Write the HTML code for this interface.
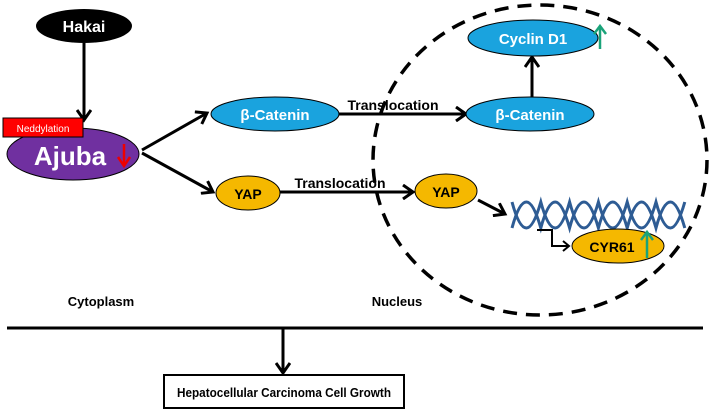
<!DOCTYPE html>
<html><head><meta charset="utf-8"><style>body{margin:0;background:#fff}svg{display:block}text{font-family:"Liberation Sans",sans-serif;font-weight:bold}</style></head>
<body>
<svg width="709" height="413" viewBox="0 0 709 413" xmlns="http://www.w3.org/2000/svg">
<defs>
<marker id="a" markerWidth="14" markerHeight="16" refX="11" refY="8" orient="auto" markerUnits="userSpaceOnUse"><path d="M1,1 L11,8 L1,15" fill="none" stroke="#000" stroke-width="3"/></marker>
</defs>
<ellipse cx="540" cy="160" rx="167" ry="155" fill="none" stroke="#000" stroke-width="3.5" stroke-dasharray="14,9"/>
<ellipse cx="84" cy="26" rx="48" ry="17" fill="#000"/>
<text x="84" y="32" fill="#fff" font-size="16" text-anchor="middle">Hakai</text>
<line x1="84" y1="43" x2="84" y2="120" stroke="#000" stroke-width="3" marker-end="url(#a)"/>
<ellipse cx="73" cy="154" rx="66" ry="26" fill="#7030a0" stroke="#000" stroke-width="1"/>
<rect x="3" y="118" width="80" height="19" fill="#f00" stroke="#000" stroke-width="1"/>
<text x="43" y="132" fill="#fff" font-size="10" text-anchor="middle" style="font-weight:normal">Neddylation</text>
<text x="70" y="165" fill="#fff" font-size="26" text-anchor="middle">Ajuba</text>
<line x1="124" y1="144" x2="124" y2="165" stroke="#e00" stroke-width="2.5"/>
<path d="M118,157 L124,166 L130,157" fill="none" stroke="#e00" stroke-width="2.5"/>
<line x1="142" y1="150" x2="207" y2="113" stroke="#000" stroke-width="3" marker-end="url(#a)"/>
<line x1="142" y1="153" x2="213" y2="192" stroke="#000" stroke-width="3" marker-end="url(#a)"/>
<ellipse cx="275" cy="114" rx="64" ry="17" fill="#1aa3de" stroke="#000" stroke-width="1"/>
<text x="275" y="120" fill="#fff" font-size="15" text-anchor="middle">β-Catenin</text>
<line x1="339" y1="114" x2="466" y2="114" stroke="#000" stroke-width="3" marker-end="url(#a)"/>
<text x="393" y="110" fill="#000" font-size="14" text-anchor="middle">Translocation</text>
<ellipse cx="530" cy="114" rx="64" ry="17" fill="#1aa3de" stroke="#000" stroke-width="1"/>
<text x="530" y="120" fill="#fff" font-size="15" text-anchor="middle">β-Catenin</text>
<line x1="532" y1="97" x2="532" y2="57" stroke="#000" stroke-width="3" marker-end="url(#a)"/>
<ellipse cx="533" cy="38" rx="65" ry="18" fill="#1aa3de" stroke="#000" stroke-width="1"/>
<text x="533" y="44" fill="#fff" font-size="15" text-anchor="middle">Cyclin D1</text>
<line x1="600" y1="49" x2="600" y2="27" stroke="#1aa37a" stroke-width="2.5"/>
<path d="M594,34 L600,26 L606,34" fill="none" stroke="#1aa37a" stroke-width="2.5"/>
<ellipse cx="248" cy="193" rx="32" ry="17" fill="#f5b800" stroke="#000" stroke-width="1"/>
<text x="248" y="199" fill="#000" font-size="14" text-anchor="middle">YAP</text>
<line x1="280" y1="192" x2="413" y2="192" stroke="#000" stroke-width="3" marker-end="url(#a)"/>
<text x="340" y="188" fill="#000" font-size="14" text-anchor="middle">Translocation</text>
<ellipse cx="446" cy="191" rx="31" ry="17" fill="#f5b800" stroke="#000" stroke-width="1"/>
<text x="446" y="197" fill="#000" font-size="14" text-anchor="middle">YAP</text>
<line x1="478" y1="200" x2="505" y2="214" stroke="#000" stroke-width="3" marker-end="url(#a)"/>
<g fill="none" stroke="#2e5c94" stroke-width="3">
<path d="M512,202 q7,26 14.4,26 q7,0 14.4,-26 q7,26 14.4,26 q7,0 14.4,-26 q7,26 14.4,26 q7,0 14.4,-26 q7,26 14.4,26 q7,0 14.4,-26 q7,26 14.4,26 q7,0 14.4,-26 q7,26 14.4,26 q7,0 14.4,-26"/>
<path d="M512,228 q7,-26 14.4,-26 q7,0 14.4,26 q7,-26 14.4,-26 q7,0 14.4,26 q7,-26 14.4,-26 q7,0 14.4,26 q7,-26 14.4,-26 q7,0 14.4,26 q7,-26 14.4,-26 q7,0 14.4,26 q7,-26 14.4,-26 q7,0 14.4,26"/>
</g>
<path d="M537,230 L552,230 L552,246 L568,246" fill="none" stroke="#000" stroke-width="2"/>
<path d="M563,241 L569,246 L563,251" fill="none" stroke="#000" stroke-width="2"/>
<ellipse cx="618" cy="246" rx="46" ry="17" fill="#f5b800" stroke="#000" stroke-width="1"/>
<text x="612" y="252" fill="#000" font-size="14" text-anchor="middle">CYR61</text>
<line x1="647" y1="258" x2="647" y2="233" stroke="#1aa37a" stroke-width="2.5"/>
<path d="M641,240 L647,232 L653,240" fill="none" stroke="#1aa37a" stroke-width="2.5"/>
<text x="101" y="306" fill="#000" font-size="13" text-anchor="middle">Cytoplasm</text>
<text x="397" y="306" fill="#000" font-size="13" text-anchor="middle">Nucleus</text>
<line x1="7" y1="328" x2="703" y2="328" stroke="#000" stroke-width="3"/>
<line x1="283" y1="328" x2="283" y2="373" stroke="#000" stroke-width="3" marker-end="url(#a)"/>
<rect x="164" y="375" width="240" height="33" fill="#fff" stroke="#000" stroke-width="2"/>
<text x="177" y="397" fill="#000" font-size="13" textLength="214" lengthAdjust="spacingAndGlyphs">Hepatocellular Carcinoma Cell Growth</text>
</svg>
</body></html>
